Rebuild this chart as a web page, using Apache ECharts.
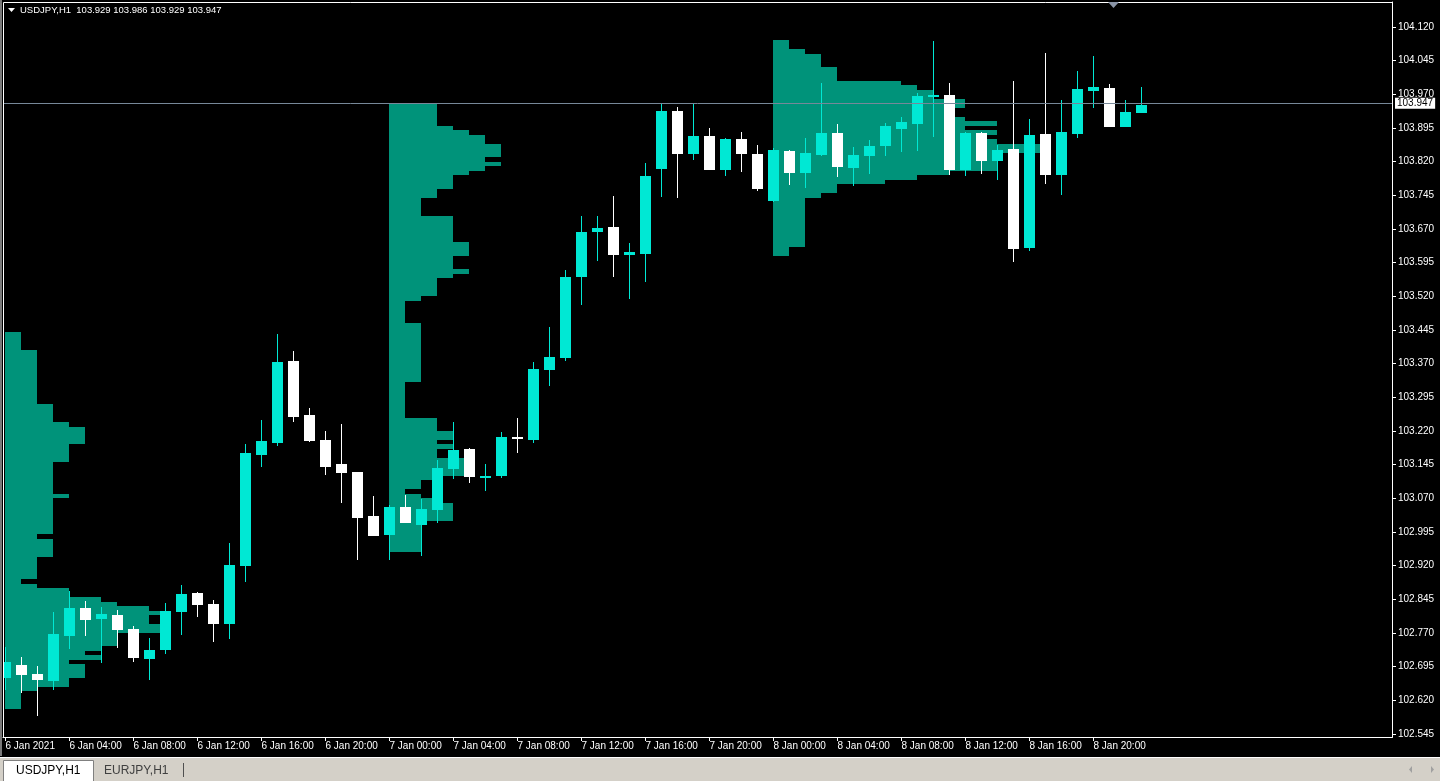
<!DOCTYPE html>
<html><head><meta charset="utf-8">
<script src="https://cdn.jsdelivr.net/npm/echarts@6/dist/echarts.min.js"></script>
<style>html,body{margin:0;padding:0;background:#000;overflow:hidden}#c{width:1440px;height:781px}</style>
</head><body><div id="c"></div>
<script>
// ---------------- DATA ----------------
const symbolName = 'USDJPY,H1';
const tabNames = ['USDJPY,H1', 'EURJPY,H1'];

const opens = [102.670, 102.699, 102.679, 102.664, 102.764, 102.826, 102.802, 102.810, 102.779, 102.713,
 102.733, 102.817, 102.859, 102.835, 102.789, 102.920, 103.167, 103.194, 103.376, 103.256,
 103.200, 103.147, 103.129, 103.031, 102.989, 103.051, 103.011, 103.045, 103.136, 103.180,
 103.116, 103.120, 103.207, 103.201, 103.357, 103.383, 103.562, 103.664, 103.674, 103.611,
 103.615, 103.804, 103.933, 103.836, 103.877, 103.802, 103.870, 103.837, 103.732, 103.844,
 103.795, 103.835, 103.884, 103.806, 103.833, 103.855, 103.893, 103.904, 103.964, 103.969,
 103.801, 103.884, 103.821, 103.848, 103.628, 103.882, 103.790, 103.882, 103.977, 103.984,
 103.897, 103.929];
const closes = [102.705, 102.677, 102.666, 102.768, 102.826, 102.800, 102.812, 102.777, 102.715, 102.732,
 102.819, 102.857, 102.832, 102.791, 102.922, 103.171, 103.198, 103.374, 103.252, 103.198,
 103.140, 103.127, 103.027, 102.987, 103.051, 103.014, 103.046, 103.138, 103.178, 103.118,
 103.120, 103.207, 103.203, 103.358, 103.385, 103.563, 103.663, 103.672, 103.613, 103.619,
 103.788, 103.933, 103.836, 103.877, 103.802, 103.870, 103.836, 103.760, 103.846, 103.795,
 103.839, 103.884, 103.808, 103.835, 103.855, 103.899, 103.908, 103.966, 103.969, 103.801,
 103.884, 103.821, 103.846, 103.625, 103.879, 103.790, 103.886, 103.982, 103.986, 103.897,
 103.931, 103.947];
const lows = [102.642, 102.637, 102.584, 102.642, 102.735, 102.764, 102.704, 102.737, 102.706, 102.666,
 102.724, 102.766, 102.806, 102.751, 102.757, 102.884, 103.140, 103.187, 103.241, 103.196,
 103.123, 103.060, 102.933, 102.987, 102.933, 103.014, 102.942, 103.016, 103.112, 103.105,
 103.087, 103.116, 103.172, 103.194, 103.321, 103.377, 103.501, 103.599, 103.564, 103.513,
 103.553, 103.742, 103.740, 103.824, 103.802, 103.787, 103.798, 103.755, 103.730, 103.768,
 103.761, 103.833, 103.786, 103.766, 103.793, 103.833, 103.842, 103.844, 103.875, 103.790,
 103.788, 103.793, 103.779, 103.596, 103.621, 103.770, 103.746, 103.873, 103.940, 103.897,
 103.897, 103.929];
const highs = [102.739, 102.717, 102.697, 102.817, 102.864, 102.841, 102.828, 102.821, 102.786, 102.759,
 102.837, 102.877, 102.861, 102.844, 102.971, 103.191, 103.245, 103.436, 103.398, 103.271,
 103.220, 103.236, 103.129, 103.075, 103.055, 103.077, 103.069, 103.155, 103.240, 103.182,
 103.147, 103.218, 103.249, 103.374, 103.452, 103.579, 103.699, 103.699, 103.744, 103.639,
 103.817, 103.951, 103.942, 103.951, 103.895, 103.873, 103.886, 103.857, 103.850, 103.847,
 103.873, 103.995, 103.904, 103.853, 103.868, 103.906, 103.920, 103.973, 104.089, 103.995,
 103.886, 103.886, 103.857, 104.000, 103.915, 104.062, 103.957, 104.022, 104.055, 103.993,
 103.957, 103.986];

// Market profile per session: [price top, price bottom, count in bars]
const profileStarts = [0, 24, 48];
const profile6Jan = [[103.44,103.40,1],[103.40,103.28,2],[103.28,103.24,3],[103.24,103.23,4],[103.23,103.19,5],
 [103.19,103.15,4],[103.15,103.08,3],[103.08,103.07,4],[103.07,102.99,3],[102.99,102.98,2],[102.98,102.94,3],
 [102.94,102.89,2],[102.89,102.88,1],[102.88,102.87,2],[102.87,102.85,4],[102.85,102.84,6],[102.84,102.83,7],
 [102.83,102.82,9],[102.82,102.81,10],[102.81,102.79,9],[102.79,102.77,10],[102.77,102.74,7],[102.74,102.73,6],
 [102.73,102.72,5],[102.72,102.71,6],[102.71,102.70,4],[102.70,102.67,5],[102.67,102.65,4],[102.65,102.64,2],
 [102.64,102.60,1]];
const profile7Jan = [[103.95,103.90,3],[103.90,103.89,4],[103.89,103.88,5],[103.88,103.86,6],[103.86,103.83,7],
 [103.83,103.82,6],[103.82,103.81,7],[103.81,103.80,6],[103.80,103.79,5],[103.79,103.76,4],[103.76,103.74,3],
 [103.74,103.70,2],[103.70,103.64,4],[103.64,103.61,5],[103.61,103.58,4],[103.58,103.57,5],[103.57,103.56,4],
 [103.56,103.52,3],[103.52,103.51,2],[103.51,103.46,1],[103.46,103.33,2],[103.33,103.25,1],[103.25,103.22,3],
 [103.22,103.20,4],[103.20,103.19,3],[103.19,103.18,4],[103.18,103.16,3],[103.16,103.12,5],[103.12,103.11,3],
 [103.11,103.09,2],[103.09,103.08,1],[103.08,103.07,2],[103.07,103.06,3],[103.06,103.02,4],[103.02,102.95,2]];
const profile8Jan = [[104.09,104.07,1],[104.07,104.06,2],[104.06,104.03,3],[104.03,104.00,4],[104.00,103.99,8],
 [103.99,103.98,9],[103.98,103.96,10],[103.96,103.94,12],[103.94,103.92,11],[103.92,103.91,12],[103.91,103.90,14],
 [103.90,103.89,12],[103.89,103.88,14],[103.88,103.87,13],[103.87,103.86,14],[103.86,103.84,17],[103.84,103.80,14],
 [103.80,103.79,11],[103.79,103.78,9],[103.78,103.77,7],[103.77,103.75,4],[103.75,103.74,3],[103.74,103.63,2],
 [103.63,103.61,1]];

const bidPrice = 103.947;
const xTickIndex = [0,4,8,12,16,20,24,28,32,36,40,44,48,52,56,60,64,68];
const xTickLabels = ['6 Jan 2021','6 Jan 04:00','6 Jan 08:00','6 Jan 12:00','6 Jan 16:00','6 Jan 20:00',
 '7 Jan 00:00','7 Jan 04:00','7 Jan 08:00','7 Jan 12:00','7 Jan 16:00','7 Jan 20:00',
 '8 Jan 00:00','8 Jan 04:00','8 Jan 08:00','8 Jan 12:00','8 Jan 16:00','8 Jan 20:00'];
const yTickLabels = ['104.120','104.045','103.970','103.895','103.820','103.745','103.670','103.595','103.520',
 '103.445','103.370','103.295','103.220','103.145','103.070','102.995','102.920','102.845','102.770','102.695',
 '102.620','102.545'];

// ---------------- STYLE / LAYOUT ----------------
const FONT = '"Liberation Sans", Arial, sans-serif';
const AXIS_FS = 10;
const BULL = '#00E8D4', BEAR = '#FFFFFF', PROFILE = '#00937A', BIDLINE = '#778899';
const X_MIN = -0.15625, X_MAX = 86.65625;
const Y_MAX = 104.17569, Y_MIN = 102.53831;

const candleData = opens.map((o, i) => [i, o, closes[i], lows[i], highs[i]]);
const profileData = [];
[profile6Jan, profile7Jan, profile8Jan].forEach((p, k) =>
  p.forEach(b => profileData.push([profileStarts[k], b[0], b[1], b[2]])));

function renderProfile(params, api) {
  const s = api.value(0), hi = api.value(1), lo = api.value(2), n = api.value(3);
  const a = api.coord([s, hi]), b = api.coord([s + n, lo]);
  const x0 = Math.round(a[0] - 0.5), x1 = Math.round(b[0] - 0.5);
  const y0 = Math.round(a[1]), y1 = Math.round(b[1]);
  return { type: 'rect', shape: { x: x0, y: y0, width: x1 - x0, height: y1 - y0 }, style: { fill: PROFILE } };
}
function renderCandle(params, api) {
  const i = api.value(0), o = api.value(1), c = api.value(2), l = api.value(3), h = api.value(4);
  const po = api.coord([i, o]), pc = api.coord([i, c]), pl = api.coord([i, l]), ph = api.coord([i, h]);
  const w = api.size([1, 0])[0];
  const bw = Math.round(w * 11 / 16);
  const cx = po[0];
  const color = c >= o ? BULL : BEAR;
  const bx = Math.round(cx - bw / 2), wx = Math.round(cx - 0.5);
  const yTop = Math.round(Math.min(po[1], pc[1])), yBot = Math.round(Math.max(po[1], pc[1]));
  const yH = Math.round(ph[1]), yL = Math.round(pl[1]);
  return { type: 'group', children: [
    { type: 'rect', shape: { x: wx, y: yH, width: 1, height: Math.max(1, yL - yH) }, style: { fill: color } },
    { type: 'rect', shape: { x: bx, y: yTop, width: bw, height: Math.max(1, yBot - yTop) }, style: { fill: color } }
  ]};
}

const last = candleData.length - 1;
const headerText = symbolName + '  ' + [opens[last], highs[last], lows[last], closes[last]].map(v => v.toFixed(3)).join(' ');

const chart = echarts.init(document.getElementById('c'), null, { renderer: 'canvas' });
chart.setOption({
  animation: false,
  backgroundColor: '#000',
  grid: { left: 3, right: 48, top: 2, bottom: 44, containLabel: false },
  xAxis: {
    type: 'value', min: X_MIN, max: X_MAX,
    splitLine: { show: false },
    axisLine: { show: true, onZero: false, lineStyle: { color: '#fff', width: 1 } },
    axisTick: { show: true, customValues: xTickIndex, length: 4, lineStyle: { color: '#fff' } },
    axisLabel: {
      customValues: xTickIndex, color: '#fff', fontFamily: FONT, fontSize: AXIS_FS, align: 'left', margin: 4,
      formatter: v => xTickLabels[xTickIndex.indexOf(Math.round(v))] || ''
    }
  },
  yAxis: {
    type: 'value', position: 'right', min: Y_MIN, max: Y_MAX, scale: true,
    splitLine: { show: false },
    axisLine: { show: true, onZero: false, lineStyle: { color: '#fff', width: 1 } },
    axisTick: { show: true, customValues: yTickLabels.map(Number), length: 4, lineStyle: { color: '#fff' } },
    axisLabel: {
      customValues: yTickLabels.map(Number), color: '#fff', fontFamily: FONT, fontSize: AXIS_FS, margin: 6,
      formatter: v => Number(v).toFixed(3)
    }
  },
  series: [
    { type: 'custom', name: 'profile', renderItem: renderProfile, data: profileData, clip: true, z: 1,
      encode: { x: 0, y: [1, 2] }, silent: true },
    { type: 'custom', name: symbolName, renderItem: renderCandle, data: candleData, clip: true, z: 2,
      encode: { x: 0, y: [1, 2, 3, 4] }, silent: true,
      markLine: {
        silent: true, symbol: 'none', z: 5, animation: false,
        lineStyle: { color: BIDLINE, type: 'solid', width: 1 },
        label: { show: true, position: 'end', distance: 3, formatter: bidPrice.toFixed(3),
          backgroundColor: '#fff', color: '#000', fontFamily: FONT, fontSize: AXIS_FS, padding: [1, 2, 0, 2] },
        data: [{ yAxis: bidPrice }]
      }
    }
  ],
  graphic: [
    { type: 'rect', shape: { x: 0, y: 0, width: 2, height: 756 }, style: { fill: '#7a7a7a' }, z: 10 },
    { type: 'rect', shape: { x: 3.5, y: 2.5, width: 1389, height: 735 }, style: { fill: null, stroke: '#fff', lineWidth: 1 }, z: 10 },
    { type: 'polygon', shape: { points: [[8, 8], [15, 8], [11.5, 12]] }, style: { fill: '#fff' }, z: 11 },
    { type: 'text', x: 20, y: 10, style: { text: headerText, fill: '#fff', font: '9.5px ' + FONT, textVerticalAlign: 'middle' }, z: 11 },
    { type: 'polygon', shape: { points: [[1108, 2], [1119, 2], [1113.5, 8]] }, style: { fill: '#8a94a6' }, z: 11 },
    { type: 'rect', shape: { x: 0, y: 757, width: 1440, height: 24 }, style: { fill: '#D4D0C8' }, z: 10 },
    { type: 'rect', shape: { x: 0, y: 757, width: 1440, height: 1 }, style: { fill: '#ffffff' }, z: 11 },
    { type: 'rect', shape: { x: 3.5, y: 760.5, width: 90, height: 21 }, style: { fill: '#fff', stroke: '#808080', lineWidth: 1 }, z: 11 },
    { type: 'text', x: 16, y: 771, style: { text: tabNames[0], fill: '#000', font: '12px "Liberation Sans", Arial, sans-serif', textVerticalAlign: 'middle' }, z: 12 },
    { type: 'text', x: 104, y: 771, style: { text: tabNames[1], fill: '#404040', font: '12px "Liberation Sans", Arial, sans-serif', textVerticalAlign: 'middle' }, z: 12 },
    { type: 'rect', shape: { x: 183, y: 763, width: 1, height: 14 }, style: { fill: '#505050' }, z: 12 },
    { type: 'polygon', shape: { points: [[1412, 766], [1412, 773], [1409, 769.5]] }, style: { fill: '#a0a0a0' }, z: 12 },
    { type: 'polygon', shape: { points: [[1431, 766], [1431, 773], [1434, 769.5]] }, style: { fill: '#a0a0a0' }, z: 12 }
  ]
});
</script></body></html>
